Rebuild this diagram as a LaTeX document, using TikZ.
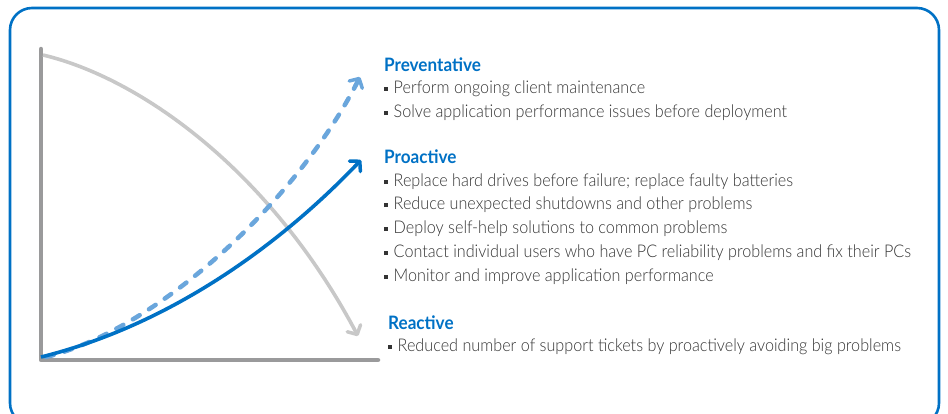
\documentclass[tikz,border=0pt]{standalone}
\usepackage{fontspec}
\setmainfont{Lato}[UprightFont={* Light},BoldFont={* Bold},FakeStretch=0.925]
\usetikzlibrary{arrows.meta}
\definecolor{frameblue}{HTML}{0071C5}
\definecolor{lightblue}{HTML}{6AA6DC}
\definecolor{axisgray}{HTML}{9A9A9B}
\definecolor{curvegray}{HTML}{C8C8C8}
\definecolor{textgray}{HTML}{333333}
\newcommand{\sqbul}{\raisebox{2.8pt}{\rule{4pt}{4pt}}\hspace{5.5pt}}

\begin{document}
\begin{tikzpicture}[x=1pt,y=-1pt,
  heading/.style={anchor=west,inner sep=0pt,text=frameblue,font=\fontsize{18.5}{20}\selectfont\bfseries},
  item/.style={anchor=west,inner sep=0pt,text=textgray,font=\fontsize{17.5}{20}\selectfont},
  tip/.style={-{Straight Barb[length=7pt,width=15pt,line width=3.5pt,round]}}]
\useasboundingbox (0,0) rectangle (948,413);
\clip (0,0) rectangle (948,413);
% frame
\draw [frameblue,line width=2.6pt,rounded corners=22pt] (10,8) rectangle (939,425);
% axes
\coordinate (ytop) at (41,49);
\coordinate (origin) at (41,360);
\coordinate (xend) at (378,360);
\draw [axisgray,line width=4.5pt,line cap=round,line join=round] (ytop) -- (origin) -- (xend);
% reactive curve
\coordinate (rstart) at (43,55);
\coordinate (rend) at (358,336);
\draw [curvegray,line width=3.6pt,tip] (rstart) .. controls (140,78) and (270,170) .. (rend);
% preventative curve
\coordinate (pstart) at (46,357);
\coordinate (pend) at (360,77);
\draw [lightblue,line width=4.5pt,line cap=round,dash pattern=on 8pt off 11pt,shorten >=3pt] (pstart) .. controls (155,330) and (295,205) .. (pend);
\draw [lightblue,line width=3.6pt,tip] (355,86) -- (pend);
% proactive curve
\coordinate (astart) at (41,357);
\coordinate (aend) at (361,160);
\draw [frameblue,line width=3.6pt,tip] (astart) .. controls (170,325) and (280,245) .. (aend);
% texts
\node [heading] (prevhead) at (384,65) {Preventative};
\node [item] (prev1) at (384,89) {\sqbul Perform ongoing client maintenance};
\node [item] (prev2) at (384,113) {\sqbul Solve application performance issues before deployment};
\node [heading] (prohead) at (384,157) {Proactive};
\node [item] (pro1) at (384,182) {\sqbul Replace hard drives before failure; replace faulty batteries};
\node [item] (pro2) at (384,205) {\sqbul Reduce unexpected shutdowns and other problems};
\node [item] (pro3) at (384,229) {\sqbul Deploy self-help solutions to common problems};
\node [item] (pro4) at (384,253) {\sqbul Contact individual users who have PC reliability problems and fix their PCs};
\node [item] (pro5) at (384,277) {\sqbul Monitor and improve application performance};
\node [heading] (reahead) at (388,323) {Reactive};
\node [item] (rea1) at (388,347) {\sqbul Reduced number of support tickets by proactively avoiding big problems};
\end{tikzpicture}
\end{document}
